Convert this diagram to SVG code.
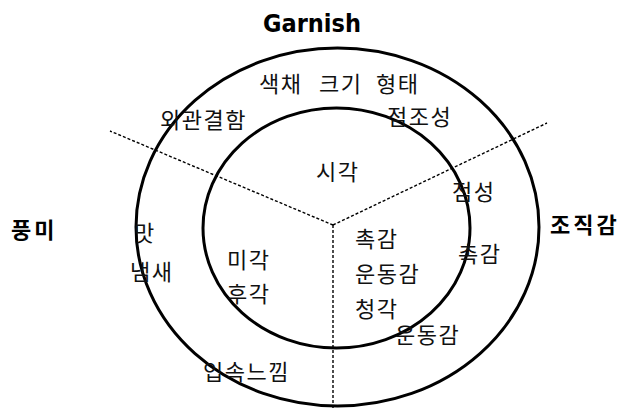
<svg xmlns="http://www.w3.org/2000/svg" width="624" height="408" viewBox="0 0 624 408">
<style>
.ring{fill:none;stroke:#000;stroke-width:3}
.div{fill:none;stroke:#000;stroke-width:1.4;stroke-dasharray:3 2}
.t{font-family:"Noto Sans CJK KR","Noto Sans CJK SC",sans-serif;font-size:22px;letter-spacing:1.5px;fill:#111}
.b{font-family:"Noto Sans CJK KR","Noto Sans CJK SC",sans-serif;font-size:22px;font-weight:bold;letter-spacing:3px;fill:#000}
.g{font-family:"DejaVu Sans Condensed","DejaVu Sans",sans-serif;font-stretch:condensed;font-size:25px;font-weight:bold;fill:#000}
</style>
<rect width="624" height="408" fill="#fff"/>
<g id="connectors">
<line class="div" x1="333" y1="225" x2="110" y2="131"/>
<line class="div" x1="333" y1="225" x2="547" y2="123"/>
<line class="div" x1="333" y1="225" x2="333" y2="408"/>
</g>
<g id="outer-ring"><ellipse class="ring" cx="337.5" cy="227" rx="201.5" ry="179"/></g>
<g id="inner-ring"><ellipse class="ring" cx="336.5" cy="228" rx="133.5" ry="120"/></g>
<g id="garnish"><text class="g" x="312" y="32" text-anchor="middle">Garnish</text></g>
<g id="pungmi"><text class="b" x="11" y="238">풍미</text></g>
<g id="jojikgam"><text class="b" x="550" y="233">조직감</text></g>
<g id="saekchae"><text class="t" y="92"><tspan x="259">색채</tspan><tspan x="319">크기</tspan><tspan x="376">형태</tspan></text></g>
<g id="oegwan"><text class="t" x="160" y="128">외관결함</text></g>
<g id="jeomjoseong"><text class="t" x="387" y="125">점조성</text></g>
<g id="sigak"><text class="t" x="316" y="180">시각</text></g>
<g id="jeomseong"><text class="t" x="452" y="200">점성</text></g>
<g id="mat"><text class="t" x="134" y="241">맛</text></g>
<g id="naemsae"><text class="t" x="130" y="280">냄새</text></g>
<g id="migak"><text class="t" x="227" y="268">미각</text></g>
<g id="hugak"><text class="t" x="227" y="302">후각</text></g>
<g id="chokgam-in"><text class="t" x="355" y="247">촉감</text></g>
<g id="undonggam-in"><text class="t" x="355" y="282">운동감</text></g>
<g id="cheonggak"><text class="t" x="355" y="317">청각</text></g>
<g id="undonggam-out"><text class="t" x="395" y="343">운동감</text></g>
<g id="chokgam-out"><text class="t" x="458" y="262">촉감</text></g>
<g id="ipsok"><text class="t" x="203" y="380">입속느낌</text></g>
</svg>
